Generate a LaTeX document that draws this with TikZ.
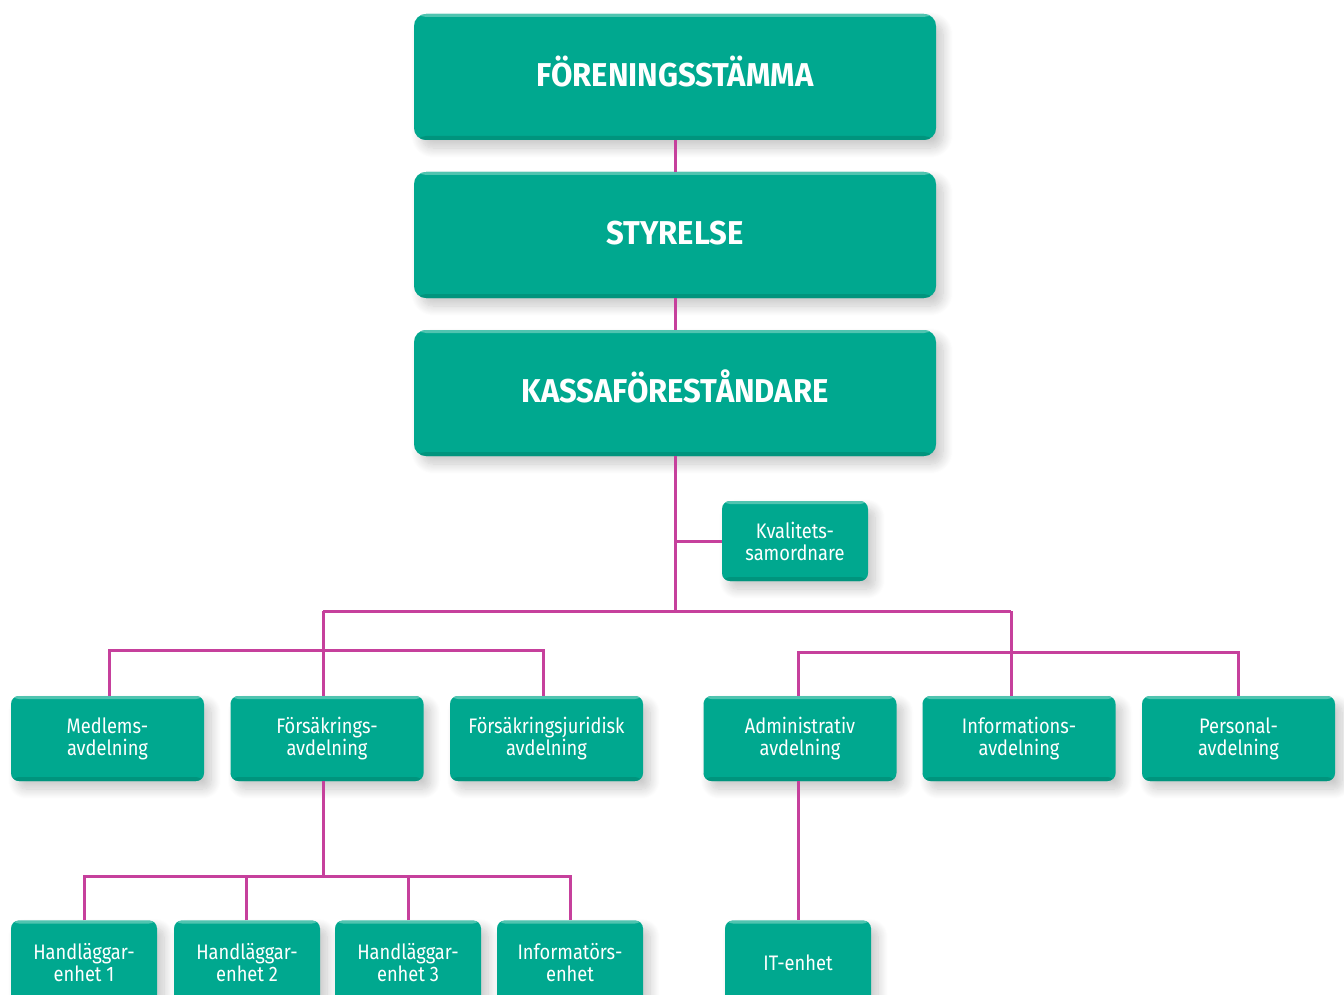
\documentclass[tikz,border=0pt]{standalone}
\usepackage{fontspec}
\setmainfont{Fira Sans}[FakeStretch=0.87, BoldFeatures={FakeStretch=0.94}]
\usepackage{tikz}
\usetikzlibrary{positioning, calc,
shadows.blur % for the soft shadow under the boxes
}
\definecolor{boxteal}{RGB}{0,168,143}
\definecolor{boxdark}{RGB}{0,148,125}
\definecolor{boxlight}{RGB}{80,196,176}
\definecolor{linkmag}{RGB}{198,64,156}
\tikzset{%
  x=1pt, y=-1pt, % one unit is one pixel of the chart, counted downwards
  box/.style={%
    fill=boxteal, text=white, align=center, inner sep=0pt,
    blur shadow={shadow xshift=7pt, shadow yshift=-8pt, shadow opacity=22,
      shadow blur radius=10pt, shadow blur steps=12},
    path picture={%
      \fill[boxdark] ([yshift=4pt]path picture bounding box.south west)
        rectangle (path picture bounding box.south east);
      \fill[boxlight] (path picture bounding box.north west)
        rectangle ([yshift=-3pt]path picture bounding box.north east);
    }
  },
  bigbox/.style={box, rounded corners=12pt, minimum width=522pt,
    minimum height=126pt, text height=26pt, text depth=7pt,
    font=\fontsize{33}{36}\selectfont\bfseries},
  midbox/.style={box, rounded corners=8pt, minimum width=193pt,
    minimum height=85pt, font=\fontsize{21}{22}\selectfont},
  smallbox/.style={box, rounded corners=8pt, minimum width=146pt,
    minimum height=85pt, font=\fontsize{21}{22}\selectfont},
  link/.style={draw=linkmag, line width=3pt}
}

\begin{document}
\begin{tikzpicture}
    \useasboundingbox (0,0) rectangle (1344,995);

    % top of the chart
    \node[bigbox] (fst) at (675,77) {FÖRENINGSSTÄMMA};
    \node[bigbox] (sty) at (675,235) {STYRELSE};
    \node[bigbox] (kfd) at (675,393) {KASSAFÖRESTÅNDARE};
    \node[smallbox, minimum height=80pt] (kval) at (795,541) {Kvalitets-\\samordnare};

    % departments
    \node[midbox] (medl) at (107.5,738.5) {Medlems-\\avdelning};
    \node[midbox] (fors) at (327,738.5) {Försäkrings-\\avdelning};
    \node[midbox] (jur) at (546.5,738.5) {Försäkringsjuridisk\\avdelning};
    \node[midbox] (adm) at (800,738.5) {Administrativ\\avdelning};
    \node[midbox] (info) at (1019,738.5) {Informations-\\avdelning};
    \node[midbox] (pers) at (1238.5,738.5) {Personal-\\avdelning};

    % units
    \node[smallbox] (hl1) at (84,963) {Handläggar-\\enhet 1};
    \node[smallbox] (hl2) at (247,963) {Handläggar-\\enhet 2};
    \node[smallbox] (hl3) at (408,963) {Handläggar-\\enhet 3};
    \node[smallbox] (ifr) at (570,963) {Informatörs-\\enhet};
    \node[smallbox] (it) at (798,963) {IT-enhet};

    % junctions of the lines
    \coordinate (jm) at (675,611);
    \coordinate (jl) at (323,611);
    \coordinate (jr) at (1011,611);
    \coordinate (bl) at (323,650);
    \coordinate (br) at (1011,652);
    \coordinate (bf) at (323,876);

    \draw[link] (fst) -- (sty);
    \draw[link] (sty) -- (kfd);
    \draw[link] (kfd.south) -- (jm);
    \draw[link] (kfd.south |- kval.west) -- (kval.west);
    \draw[link] (jl) -- (jr);

    \draw[link] (jl) -- (jl |- fors.north);
    \draw[link] ([xshift=1.5pt]medl.north) -- ([xshift=1.5pt]medl.north |- bl) -| ([xshift=-3.5pt]jur.north);

    \draw[link] (jr) -- (jr |- info.north);
    \draw[link] ([xshift=-2pt]adm.north) -- ([xshift=-2pt]adm.north |- br) -| (pers.north);

    \draw[link] (jl |- fors.south) -- (bf);
    \draw[link] (hl1.north) -- (hl1.north |- bf) -| (ifr.north);
    \draw[link] ([xshift=-1pt]hl2.north) -- ([xshift=-1pt]hl2.north |- bf);
    \draw[link] (hl3.north) -- (hl3.north |- bf);

    \draw[link] (it.north |- adm.south) -- (it.north);
\end{tikzpicture}
\end{document}
